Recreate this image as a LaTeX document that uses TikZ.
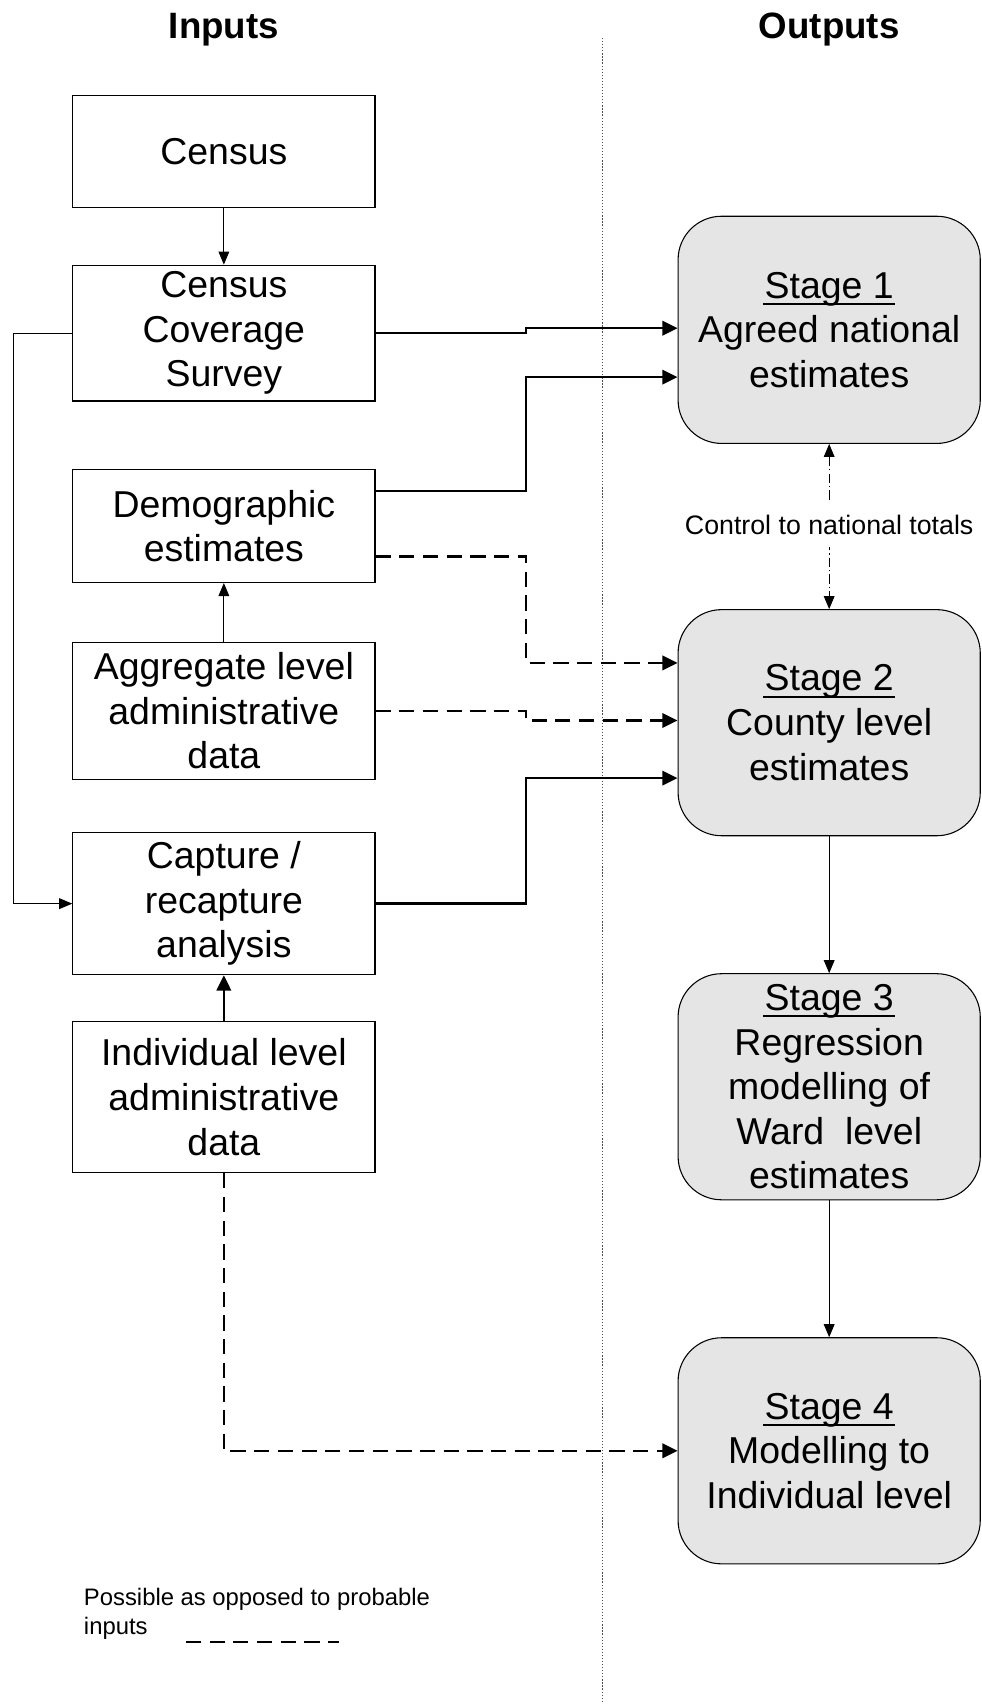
\documentclass[tikz,border=0pt]{standalone}
\usepackage{fontspec}
\setmainfont{Liberation Sans}
\usetikzlibrary{arrows.meta,calc}
\newcommand\bxfont{\fontsize{24.5}{29.2}\selectfont}
\newcommand\ttlfont{\fontsize{24}{28}\selectfont\bfseries}
\newcommand\ctlfont{\fontsize{17.5}{21}\selectfont}
\newcommand\lgfont{\fontsize{15.6}{19}\selectfont}
\newcommand\stul[1]{\leavevmode\setbox0\hbox{#1}\rlap{\kern-1pt\vrule width \dimexpr\wd0+2pt\relax height -3.2pt depth 4.6pt}\box0}
\begin{document}
\begin{tikzpicture}[x=0.025cm,y=-0.025cm,
  box/.style={draw,line width=0.7pt,minimum width=6.95cm,inner sep=0pt,align=center,font=\bxfont},
  stagebox/.style={box,rounded corners=1cm,fill=black!10,minimum height=5.2cm},
  thinarrow/.style={line width=0.6pt,-{Triangle[length=8.5pt,width=7pt]}},
  thickarrow/.style={line width=1.5pt,-{Triangle[length=10pt,width=9.5pt]}},
  dasharrow/.style={line width=1.5pt,dash pattern=on 10pt off 5.5pt,-{Triangle[length=10pt,width=9.5pt]}},
  ctlline/.style={line width=0.6pt,dash pattern=on 6pt off 2pt on 1pt off 2pt,{Triangle[length=8.5pt,width=7pt]}-{Triangle[length=8.5pt,width=7pt]}},
]
\useasboundingbox (0,0) rectangle (903,1568);

% titles
\node[font=\ttlfont] (tin) at (206,27) {Inputs};
\node[font=\ttlfont] (tout) at (763,27) {Outputs};

% divider
\coordinate (dv1) at (554,35);
\coordinate (dv2) at (554,1568);
\draw[line width=0.5pt,dash pattern=on 0.8pt off 1.2pt,black!70] (dv1) -- (dv2);

% input boxes
\node[box,minimum height=2.575cm] (census) at (206,139.5) {Census};
\node[box,minimum height=3.125cm] (ccs) at (206,306.5) {Census\\Coverage\\Survey};
\node[box,minimum height=2.6cm] (demo) at (206,484) {Demographic\\estimates};
\node[box,minimum height=3.15cm] (aggr) at (206,654) {Aggregate level\\administrative\\data};
\node[box,minimum height=3.275cm] (capt) at (206,831.5) {Capture /\\recapture\\analysis};
\node[box,minimum height=3.475cm] (indiv) at (206,1009.5) {Individual level\\administrative\\data};

% output boxes
\node[stagebox,minimum height=5.225cm] (s1) at (763,303.5) {\stul{Stage 1}\\Agreed national\\estimates};
\node[stagebox] (s2) at (763,665) {\stul{Stage 2}\\County level\\estimates};
\node[stagebox] (s3) at (763,1000) {\stul{Stage 3}\\Regression\\modelling of\\Ward~ level\\estimates};
\node[stagebox] (s4) at (763,1335) {\stul{Stage 4}\\Modelling to\\Individual level};

% vertical connectors on the left
\draw[thinarrow] (census) -- (ccs);
\draw[thinarrow] (aggr) -- (demo);
\draw[thickarrow] (indiv) -- (capt);

% left loop
\coordinate (f1) at (12,307);
\draw[thinarrow] (ccs.west) -- (ccs.west -| f1) |- (capt.west);

% to stage 1
\coordinate (a1) at (484,302);
\draw[thickarrow] (ccs.east) -- (ccs.east -| a1) -- (a1) -- (a1 -| s1.west);
\coordinate (b0) at (345,452);
\coordinate (b1) at (484,347);
\draw[thickarrow] (demo.east |- b0) -| (b1) -- (b1 -| s1.west);

% to stage 2
\coordinate (c0) at (345,512);
\coordinate (c1) at (484,610);
\draw[dasharrow] (demo.east |- c0) -| (c1) -- (c1 -| s2.west);
\coordinate (d1) at (484,663);
\draw[dasharrow] (aggr.east) -| (d1) -- (d1 -| s2.west);
\coordinate (e1) at (484,716);
\draw[thickarrow] (capt.east) -| (e1) -- (e1 -| s2.west);

% to stage 4
\draw[dasharrow] (indiv.south) |- (s4.west);

% stage chain
\draw[ctlline] (s1.south) -- (s2.north);
\node[fill=white,font=\ctlfont,inner xsep=1pt,inner ysep=8pt] (ctl) at (763,483) {Control to national totals};
\draw[thinarrow] (s2) -- (s3);
\draw[thinarrow] (s3) -- (s4);

% legend
\node[anchor=base west,font=\lgfont,inner sep=0pt] (lg1) at (77,1477) {Possible as opposed to probable};
\node[anchor=base west,font=\lgfont,inner sep=0pt] (lg2) at (77,1504) {inputs};
\coordinate (lgs) at (171,1511);
\coordinate (lge) at (312,1511);
\draw[line width=1.5pt,dash pattern=on 10pt off 5.5pt] (lgs) -- (lge);
\end{tikzpicture}
\end{document}
